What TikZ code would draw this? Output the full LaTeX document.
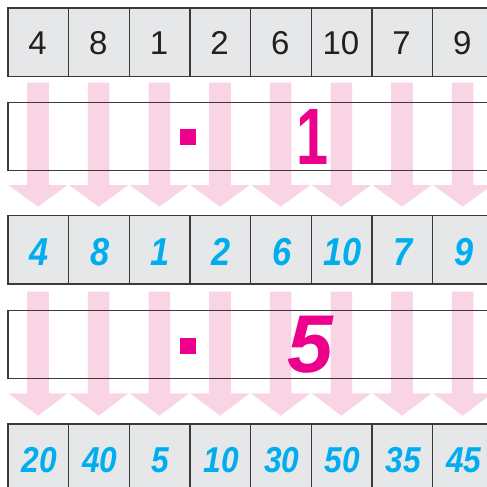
\documentclass[tikz,border=0pt]{standalone}
\usepackage{fontspec}
\setmainfont{Liberation Sans}
\newfontfamily\bluefont[FakeStretch=0.88]{Liberation Sans}
\newfontfamily\narrowfont[FakeStretch=0.72]{Liberation Sans}
\definecolor{cellgray}{HTML}{E6E7E8}
\definecolor{linegray}{HTML}{3A3A3A}
\definecolor{arrowpink}{HTML}{F8D4E4}
\definecolor{numblue}{HTML}{00AEEF}
\definecolor{magent}{HTML}{EC008C}
\definecolor{numdark}{HTML}{231F20}
\begin{document}
\begin{tikzpicture}[x=1pt,y=-1pt,
  cell/.style={draw=linegray,line width=1.3pt,fill=cellgray,minimum width=60.67pt,minimum height=68.4pt,inner sep=0pt,anchor=north west},
  opbox/.style={draw=linegray,line width=1.3pt,minimum width=486pt,minimum height=68pt,inner sep=0pt,anchor=north west},
  topnum/.style={anchor=base,inner sep=0pt,text=numdark,font=\fontsize{33}{33}\selectfont},
  midnum/.style={anchor=base,inner sep=0pt,text=numblue,font=\bluefont\bfseries\itshape\fontsize{39}{39}\selectfont},
  botnum/.style={anchor=base,inner sep=0pt,text=numblue,font=\bluefont\bfseries\itshape\fontsize{36}{36}\selectfont},
  bigmag/.style={anchor=base,inner sep=0pt,text=magent,font=\narrowfont\bfseries\fontsize{80}{80}\selectfont},
  bigmagit/.style={anchor=base,inner sep=0pt,text=magent,font=\bfseries\itshape\fontsize{82}{82}\selectfont},
  blockarrow/.style={fill=arrowpink,draw=none}
]
\useasboundingbox (0,0) rectangle (487,487);
\clip (0,0) rectangle (487,487);
\fill[white] (0,0) rectangle (487,487);
% arrows
\foreach \i in {0,...,7}{
  \pgfmathsetmacro{\cx}{38.0+60.67*\i}
  \foreach \ys/\yh/\yt in {82.7/185/206.7, 291.7/393.3/415.7}{
    \fill[blockarrow] (\cx-10.8,\ys) -- (\cx+10.8,\ys) -- (\cx+10.8,\yh) -- (\cx+29.6,\yh) -- (\cx,\yt) -- (\cx-29.6,\yh) -- (\cx-10.8,\yh) -- cycle;
  }
}
% operation boxes
\node[opbox] (box1) at (7.3,101.7) {};
\node[opbox] (box2) at (7.3,310) {};
\fill[magent] (180,129) rectangle (196,145);
\fill[magent] (180,338) rectangle (196,354);
\node[bigmag] (one) at (313,164) {1};
\node[bigmagit] (five) at (310,372) {5};
% rows
\foreach \i/\a/\b/\c in {0/4/4/20,1/8/8/40,2/1/1/5,3/2/2/10,4/6/6/30,5/10/10/50,6/7/7/35,7/9/9/45}{
  \pgfmathsetmacro{\xl}{7.3+60.67*\i}
  \pgfmathsetmacro{\cx}{37.6+60.67*\i}
  \node[cell] (ra\i) at (\xl,7.3) {};
  \node[cell] (rb\i) at (\xl,215) {};
  \node[cell] (rc\i) at (\xl,423.3) {};
  \node[topnum] (ta\i) at (\cx,55) {\a};
  \node[midnum] (tb\i) at (\cx+1.5,265) {\b};
  \node[botnum] (tc\i) at (\cx+1.5,472.3) {\c};
}
\end{tikzpicture}
\end{document}
